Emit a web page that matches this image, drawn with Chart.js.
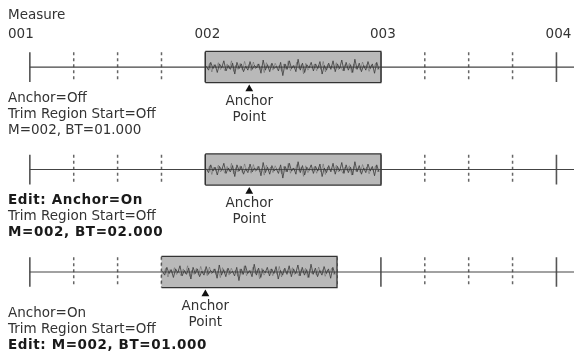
<!DOCTYPE html>
<html>
<head>
<meta charset="utf-8">
<script src="https://cdn.jsdelivr.net/npm/chart.js@4.4.1/dist/chart.umd.min.js"></script>
<style>
  html, body { margin: 0; padding: 0; background: #fff; }
  #wrap { width: 574px; height: 358px; }
</style>
</head>
<body>
<div id="wrap"><canvas id="c" width="574" height="358"></canvas></div>
<script>
// measures along the top, beats per measure
var measureLabels = ['001', '002', '003', '004'];
var measures = [1, 2, 3, 4];
var beatsPerMeasure = 4;

// one row per example (row number = y value)
var rows = [1, 2, 3];
var regionStart = [2, 2, 1.75];
var regionEnd = [3, 3, 2.75];
var anchorAt = [2.25, 2.25, 2.0];

// left side notes, [text, bold]
var rowNotes = [
  [['Anchor=Off', false], ['Trim Region Start=Off', false], ['M=002, BT=01.000', false]],
  [['Edit: Anchor=On', true], ['Trim Region Start=Off', false], ['M=002, BT=02.000', true]],
  [['Anchor=On', false], ['Trim Region Start=Off', false], ['Edit: M=002, BT=01.000', true]]
];

// waveform sample amplitudes (one measure of audio)
var wave = [0.05,-0.2,0.3,-0.1,0.15,-0.35,0.2,-0.05,0.4,-0.25,0.1,-0.15,0.25,-0.45,0.3,-0.1,
  0.2,-0.3,0.05,-0.2,0.35,-0.15,0.1,-0.05,0.2,-0.4,0.45,-0.2,0.15,-0.3,0.25,-0.1,0.05,-0.25,
  0.3,-0.55,0.2,-0.15,0.4,-0.1,0.1,-0.3,0.5,-0.2,0.25,-0.35,0.15,-0.05,0.3,-0.25,0.2,-0.1,
  0.35,-0.45,0.1,-0.2,0.25,-0.15,0.4,-0.3,0.2,-0.1,0.45,-0.25,0.3,-0.2,0.15,-0.35,0.5,-0.15,
  0.25,-0.3,0.1,-0.2,0.35,-0.1,0.2,-0.4,0.3,-0.15];

var X_MIN = 0.83, X_MAX = 4.1;
var TICK_H = 0.145, BOX_H = 0.152;
var textTop = [31, 31, 41];

var baseData = [], solidData = [], dashData = [], anchorData = [];
rows.forEach(function(r){
  baseData.push({x: measures[0], y: r}, {x: X_MAX, y: r}, {x: X_MAX, y: null});
  measures.forEach(function(m){
    solidData.push({x: m, y: r - TICK_H}, {x: m, y: r + TICK_H}, {x: m, y: null});
    if (m < measures[measures.length - 1]) {
      for (var b = 1; b < beatsPerMeasure; b++) {
        var bx = m + b / beatsPerMeasure;
        dashData.push({x: bx, y: r - TICK_H}, {x: bx, y: r + TICK_H}, {x: bx, y: null});
      }
    }
  });
});
rows.forEach(function(r, i){ anchorData.push({x: anchorAt[i], y: r + 0.215}); });

var FONT = '"DejaVu Sans", sans-serif';

function drawWave(ctx, samples, x0, x1, yc, half, shift){
  ctx.beginPath();
  samples.forEach(function(a, k){
    var px = x0 + 1 + (x1 - x0 - 3) * (k + shift) / (samples.length - 1);
    var py = yc - a * half;
    if (k === 0) ctx.moveTo(px, py); else ctx.lineTo(px, py);
  });
  ctx.stroke();
}

var diagram = {
  id: 'diagram',
  afterDatasetsDraw: function(chart){
    var ctx = chart.ctx, xs = chart.scales.x, ys = chart.scales.y;
    rows.forEach(function(r, i){
      var x0 = xs.getPixelForValue(regionStart[i]), x1 = xs.getPixelForValue(regionEnd[i]);
      var y0 = ys.getPixelForValue(r - BOX_H), y1 = ys.getPixelForValue(r + BOX_H);
      var yc = ys.getPixelForValue(r), half = (y1 - y0) / 2;
      ctx.save();
      ctx.fillStyle = '#b9b9b9';
      ctx.fillRect(x0, y0, x1 - x0, y1 - y0);
      // waveform
      ctx.strokeStyle = 'rgba(70,70,70,0.55)';
      ctx.lineWidth = 0.7;
      drawWave(ctx, wave.slice().reverse(), x0, x1, yc, half * 0.8, 0.5);
      ctx.strokeStyle = '#3a3a3a';
      ctx.lineWidth = 0.8;
      drawWave(ctx, wave, x0, x1, yc, half, 0);
      ctx.strokeStyle = 'rgba(50,50,50,0.7)';
      ctx.lineWidth = 1.2;
      ctx.beginPath(); ctx.moveTo(x0, yc); ctx.lineTo(x1, yc); ctx.stroke();
      // border
      ctx.strokeStyle = '#333';
      ctx.lineWidth = 1.3;
      ctx.beginPath();
      ctx.moveTo(x0, y0); ctx.lineTo(x1, y0); ctx.lineTo(x1, y1); ctx.lineTo(x0, y1);
      ctx.stroke();
      if (regionStart[i] % 1 !== 0) { ctx.setLineDash([3, 3]); ctx.strokeStyle = '#555'; }
      ctx.beginPath(); ctx.moveTo(x0, y0); ctx.lineTo(x0, y1); ctx.stroke();
      ctx.restore();
    });
  },
  afterDraw: function(chart){
    var ctx = chart.ctx, xs = chart.scales.x, ys = chart.scales.y;
    ctx.save();
    ctx.textBaseline = 'middle';
    ctx.fillStyle = '#333';
    ctx.font = '13.5px ' + FONT;
    ctx.textAlign = 'left';
    ctx.fillText('Measure', 8, 15);
    measureLabels.forEach(function(t, i){
      var px = xs.getPixelForValue(measures[i]);
      if (i === 0) { ctx.textAlign = 'left'; ctx.fillText(t, 8, 34); }
      else { ctx.textAlign = 'center'; ctx.fillText(t, px + 2, 34); }
    });
    rows.forEach(function(r, i){
      var yc = ys.getPixelForValue(r);
      var ax = xs.getPixelForValue(anchorAt[i]);
      ctx.textAlign = 'center';
      ctx.font = '13.5px ' + FONT;
      ctx.letterSpacing = '0px';
      ctx.fillStyle = '#333';
      ctx.fillText('Anchor', ax, yc + 34);
      ctx.fillText('Point', ax, yc + 50);
      ctx.textAlign = 'left';
      rowNotes[i].forEach(function(n, k){
        if (n[1]) { ctx.font = 'bold 13.5px ' + FONT; ctx.letterSpacing = '0.6px'; ctx.fillStyle = '#1a1a1a'; }
        else { ctx.font = '13.5px ' + FONT; ctx.letterSpacing = '0px'; ctx.fillStyle = '#333'; }
        ctx.fillText(n[0], 8, yc + textTop[i] + k * 16);
      });
    });
    ctx.restore();
  }
};

new Chart(document.getElementById('c'), {
  type: 'scatter',
  data: {
    datasets: [
      { type: 'line', data: baseData, borderColor: '#444', borderWidth: 1.2, pointRadius: 0, spanGaps: false },
      { type: 'line', data: solidData, borderColor: '#555', borderWidth: 1.6, pointRadius: 0, spanGaps: false },
      { type: 'line', data: dashData, borderColor: '#666', borderWidth: 1.5, borderDash: [3, 3], pointRadius: 0, spanGaps: false },
      { data: anchorData, pointStyle: 'triangle', pointRadius: 4.5, backgroundColor: '#111', borderColor: '#111', borderWidth: 0 }
    ]
  },
  options: {
    responsive: false,
    animation: false,
    events: [],
    layout: { padding: 0, autoPadding: false },
    plugins: { legend: { display: false }, tooltip: { enabled: false } },
    scales: {
      x: { type: 'linear', min: X_MIN, max: X_MAX, display: false },
      y: { type: 'linear', min: 0.346, max: 3.839, reverse: true, display: false }
    }
  },
  plugins: [diagram]
});
</script>
</body>
</html>
